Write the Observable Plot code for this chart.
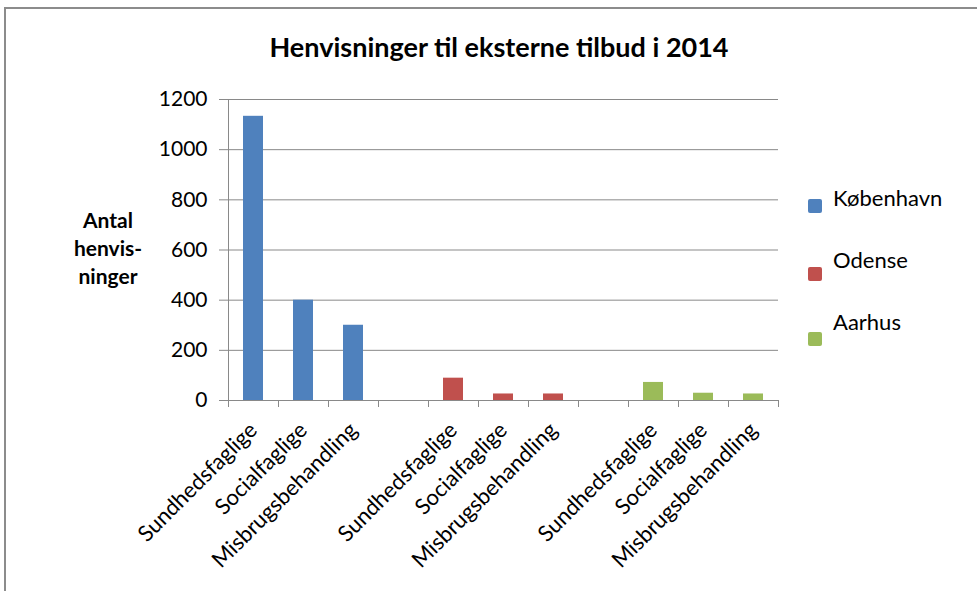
<!DOCTYPE html>
<html>
<head>
<meta charset="utf-8">
<script src="https://cdn.jsdelivr.net/npm/d3@7"></script>
<script src="https://cdn.jsdelivr.net/npm/@observablehq/plot@0.6"></script>
<style>
  html, body { margin: 0; padding: 0; background: #fff; }
  #wrap { position: relative; width: 977px; height: 591px; overflow: hidden; font-family: Lato, "Open Sans", sans-serif; }
  #frame { position: absolute; left: 4px; top: 7px; width: 990px; height: 600px; border: 2px solid #8c8c8c; box-sizing: border-box; }
  #chart { position: absolute; left: 0; top: 0; }
</style>
</head>
<body>
<div id="wrap">
  <div id="frame"></div>
  <div id="chart"></div>
</div>
<script>
const title = "Henvisninger til eksterne tilbud i 2014";
const yLabelLines = ["Antal", "henvis-", "ninger"];
const categories = ["Sundhedsfaglige", "Socialfaglige", "Misbrugsbehandling"];
const cities = ["København", "Odense", "Aarhus"];
const kobenhavn = [1133, 400, 300];
const odense = [89, 26, 26];
const aarhus = [72, 29, 26];
const yTicks = [0, 200, 400, 600, 800, 1000, 1200];
const colors = ["#4F81BD", "#C0504D", "#9BBB59"];

const seriesValues = [kobenhavn, odense, aarhus];
const rows = [];
cities.forEach((city, ci) => {
  categories.forEach((cat, k) => {
    const slot = ci * 4 + k;
    rows.push({city, cat, slot, value: seriesValues[ci][k]});
  });
});
const nSlots = cities.length * 4 - 1;

const plot = Plot.plot({
  width: 977,
  height: 591,
  marginLeft: 228,
  marginRight: 199,
  marginTop: 99,
  marginBottom: 191,
  style: {fontFamily: "Lato, 'Open Sans', sans-serif", background: "transparent", overflow: "visible"},
  x: {domain: [0, nSlots], axis: null},
  y: {domain: [0, 1200], axis: null},
  color: {domain: cities, range: colors},
  marks: [
    Plot.gridY(yTicks.filter(d => d > 0), {stroke: "#898989", strokeOpacity: 1, strokeWidth: 1}),
    Plot.axisY({ticks: yTicks, tickFormat: d3.format("d"), tickSize: 9, tickPadding: 12, stroke: "#898989", fill: "#000", fontSize: 21, label: null, anchor: "left"}),
    Plot.axisX({ticks: d3.range(nSlots + 1), tickFormat: () => "", tickSize: 7, stroke: "#898989", label: null, anchor: "bottom"}),
    Plot.ruleX([0], {stroke: "#898989"}),
    Plot.rectY(rows, {x1: d => d.slot + 0.3, x2: d => d.slot + 0.7, y: "value", fill: "city"}),
    Plot.ruleY([0], {stroke: "#898989"}),
    Plot.text(rows, {x: d => d.slot + 0.5, y: 0, text: "cat", rotate: -45, textAnchor: "end", lineAnchor: "middle", dy: 26, dx: 0, fontSize: 22, fill: "#000"})
  ]
});
document.getElementById("chart").appendChild(plot);

const svg = d3.select(plot);
svg.append("text").attr("x", 499).attr("y", 57).attr("text-anchor", "middle")
  .attr("font-size", 27).attr("font-weight", "bold").attr("fill", "#000").text(title);
const yl = svg.append("text").attr("text-anchor", "middle").attr("font-size", 21).attr("font-weight", "bold").attr("fill", "#000");
yLabelLines.forEach((t, i) => yl.append("tspan").attr("x", 108).attr("y", 228 + i * 28).text(t));

const legendLayout = [{sq: 199, base: 206}, {sq: 267, base: 268}, {sq: 332, base: 330}];
cities.forEach((c, i) => {
  svg.append("rect").attr("x", 808).attr("y", legendLayout[i].sq).attr("width", 14).attr("height", 14)
    .attr("rx", 2).attr("fill", colors[i]);
  svg.append("text").attr("x", 833).attr("y", legendLayout[i].base).attr("text-anchor", "start")
    .attr("font-size", 22).attr("fill", "#000").text(c);
});
</script>
</body>
</html>
